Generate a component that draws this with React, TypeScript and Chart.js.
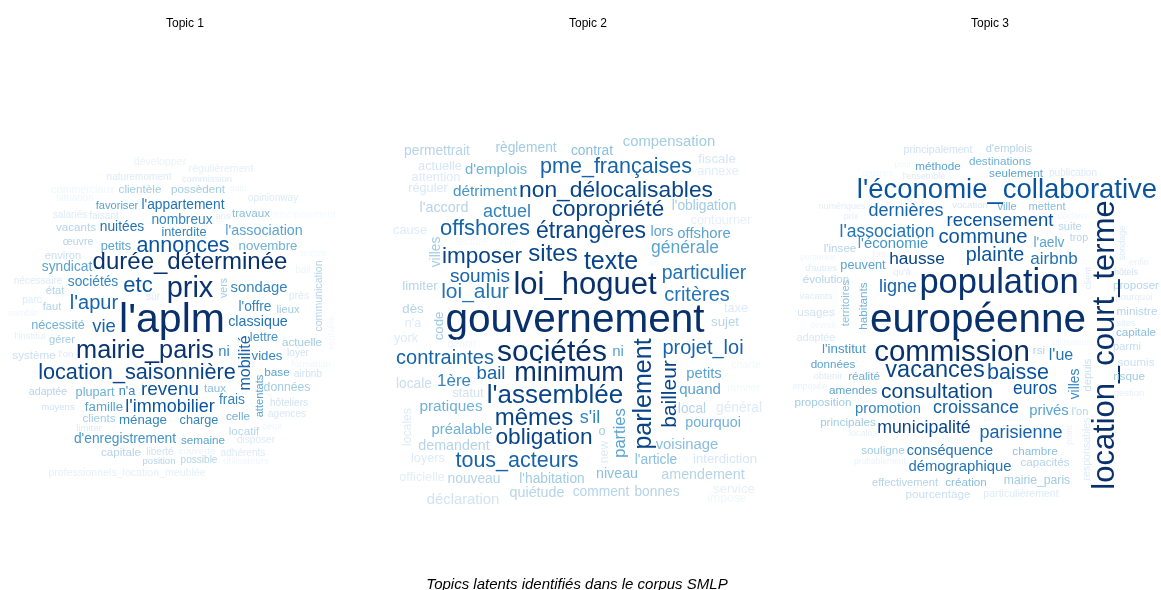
import React, { useEffect, useRef } from "react";
import { Chart, registerables } from "chart.js";

Chart.register(...registerables);

type Row = [string, number, number, number, number, number?];

const topicTitles = ["Topic 1", "Topic 2", "Topic 3"];
const titleCentres = [185, 588, 990];
const titleLevel = 24;
const caption = "Topics latents identifiés dans le corpus SMLP";
const captionCentre = 577;
const captionLevel = 585;
const blues = ["#F7FBFF", "#DEEBF7", "#C6DBEF", "#9ECAE1", "#6BAED6", "#4292C6", "#2171B5", "#08519C", "#08306B"];

// [word, x, y, weight, tone (1-9 on the Blues ramp), vertical?]
const topic1: Row[] = [
  ["développer", 160, 161, 10, 1.5], ["naturemoment", 139, 177, 9.5, 2], ["commission", 207, 179, 9, 2],
  ["régulièrement", 221, 168, 10, 1.7], ["clientèle", 140, 189, 11, 3.5], ["possèdent", 198, 189, 11, 3.5],
  ["commerciaux", 83, 189, 10, 1.3], ["gain", 238, 188, 8, 1.3], ["opinionway", 273, 198, 9.5, 2],
  ["situation", 75, 198, 9.5, 1.3], ["favoriser", 117, 205, 10.5, 5], ["l'appartement", 183, 204, 13, 6.5],
  ["salariés", 70, 215, 9.5, 2], ["faisant", 104, 216, 9.5, 2], ["travaux", 251, 213, 11, 4],
  ["ans", 223, 216, 9, 1.8], ["principalement", 303, 215, 9.5, 1.1], ["nombreux", 182, 219, 13, 6],
  ["vacants", 76, 227, 11, 3], ["nuitées", 122, 226, 13, 6.5], ["interdite", 184, 232, 12, 6],
  ["l'association", 264, 230, 13.5, 5], ["novembre", 268, 245, 12.5, 4.5], ["annonces", 183, 245, 21.5, 7.5],
  ["petits", 116, 246, 12, 5], ["œuvre", 78, 241, 10, 3], ["environ", 63, 255, 10.5, 2.8],
  ["syndicat", 67, 266, 13, 5], ["durée_déterminée", 190, 261, 24, 8.5], ["textes", 313, 253, 9, 1.2],
  ["bail", 303, 270, 9.5, 1.4], ["communication", 318, 296, 10, 3, 1], ["vers", 223, 288, 10, 3.5, 1],
  ["prix", 190, 287, 29, 8.5], ["sondage", 259, 287, 14, 6], ["etc", 138, 284, 22, 7.5],
  ["sociétés", 93, 281, 13, 6], ["nécessaire", 38, 281, 9.5, 2], ["état", 55, 290, 10.5, 3],
  ["parc", 32, 300, 9.5, 2], ["faut", 52, 306, 10.5, 3], ["semble", 23, 313, 9, 1.3],
  ["l'apur", 94, 302, 20, 7], ["sûr", 153, 297, 9.5, 2], ["près", 299, 295, 10, 2],
  ["l'offre", 255, 306, 13, 6], ["lieux", 288, 309, 10.5, 3.5], ["l'aplm", 172, 318, 41, 9],
  ["classique", 258, 321, 13.5, 6.5], ["ventable", 331, 333, 8.5, 1.2, 1], ["nécessité", 58, 325, 12, 4.5],
  ["vie", 104, 326, 18.5, 7], ["l'institut", 30, 336, 9, 1.7], ["gérer", 62, 339, 10.5, 3.5],
  ["lettre", 264, 337, 12, 5.5], ["actuelle", 302, 342, 11, 3.5], ["système", 34, 355, 11, 2.8],
  ["l'on", 66, 354, 9, 2], ["mairie_paris", 145, 349, 25.3, 8.5], ["ni", 224, 351, 14, 6],
  ["vides", 267, 355, 12.5, 6], ["mobilité", 244, 363, 16, 7, 1], ["loyer", 298, 353, 9.5, 2.5],
  ["formation", 311, 364, 9, 1.3], ["location_saisonnière", 137, 372, 21.7, 8], ["base", 277, 372, 11, 5],
  ["airbnb", 308, 374, 9.5, 2.5], ["attentats", 259, 396, 10.5, 5, 1], ["données", 287, 387, 11.5, 3.5],
  ["adaptée", 48, 391, 10, 3], ["plupart", 95, 392, 12, 4.5], ["n'a", 127, 391, 12, 6],
  ["revenu", 170, 388, 19, 7.5], ["taux", 215, 388, 11, 4], ["frais", 232, 399, 13, 6],
  ["hôteliers", 289, 403, 9.5, 2.5], ["moyens", 58, 407, 9, 2.5], ["famille", 104, 406, 12.5, 5],
  ["l'immobilier", 170, 406, 18, 7.5], ["celle", 238, 416, 11, 4.5], ["agences", 287, 414, 9.5, 2.2],
  ["clients", 99, 418, 11, 3.5], ["ménage", 143, 419, 12.5, 6], ["charge", 199, 420, 12, 6],
  ["locatif", 244, 431, 11, 3], ["ceux", 272, 426, 9, 1.4], ["limiter", 89, 428, 9, 2],
  ["d'enregistrement", 125, 438, 13, 5.5], ["semaine", 203, 440, 11, 5], ["disposer", 256, 440, 9.5, 2],
  ["capitale", 121, 452, 11, 3], ["liberté", 160, 452, 9.5, 2.5], ["couverte", 197, 451, 9, 1.5],
  ["adhérents", 243, 453, 9.5, 2], ["position", 159, 461, 9, 3], ["possible", 199, 460, 9.5, 3],
  ["utilisateurs", 246, 461, 9, 1.3], ["professionnels_location_meublée", 127, 472, 10, 1.7],
];

const topic2: Row[] = [
  ["permettrait", 437, 150, 13, 3], ["règlement", 526, 147, 13, 3.5], ["contrat", 592, 150, 13, 4],
  ["compensation", 669, 141, 14, 3.5], ["fiscale", 717, 158, 12.5, 2.3], ["annexe", 718, 171, 12, 1.8],
  ["actuelle", 440, 166, 12, 2.3], ["attention", 436, 177, 12, 2], ["d'emplois", 496, 169, 14, 4.5],
  ["pme_françaises", 616, 166, 21.5, 7], ["réguler", 428, 188, 12, 2.2], ["détriment", 485, 191, 14.5, 5.5],
  ["non_délocalisables", 616, 189, 22.8, 8], ["l'accord", 444, 207, 13.5, 3], ["actuel", 507, 211, 18, 6],
  ["copropriété", 608, 208, 22.5, 8], ["l'obligation", 704, 205, 13, 3.5], ["contourner", 721, 220, 12, 1.7],
  ["cause", 410, 230, 12, 2], ["offshores", 485, 227, 22, 7], ["étrangères", 591, 230, 23, 8],
  ["lors", 662, 231, 13.5, 5], ["offshore", 704, 233, 14, 5], ["générale", 685, 247, 17.5, 5],
  ["lecture", 472, 241, 10, 1.1], ["ville", 508, 241, 10, 1.1], ["villes", 435, 252, 13, 3.5, 1],
  ["imposer", 482, 255, 22.5, 8], ["sites", 553, 253, 24, 8], ["texte", 611, 260, 25, 8],
  ["fin", 654, 263, 9, 1.2], ["soumis", 480, 275, 19, 7], ["particulier", 704, 272, 19.5, 6.5],
  ["limiter", 420, 285, 12.5, 3], ["loi_alur", 475, 291, 21, 6.5], ["loi_hoguet", 585, 283, 31, 9],
  ["critères", 697, 294, 20, 6.5], ["taxe", 736, 308, 12, 2], ["dès", 413, 308, 12.5, 3],
  ["code", 438, 326, 12.5, 3.5, 1], ["gouvernement", 575, 318, 40.5, 9], ["sujet", 725, 321, 12.5, 3],
  ["n'a", 413, 323, 12, 2], ["york", 406, 338, 12, 2], ["définir", 462, 343, 10, 1.3],
  ["sociétés", 552, 351, 30, 9], ["ni", 618, 351, 15, 5], ["parlement", 642, 394, 25, 8, 1],
  ["projet_loi", 703, 347, 20, 7], ["contraintes", 445, 357, 20, 7], ["bailleur", 669, 394, 21, 8, 1],
  ["minimum", 569, 372, 27, 8.5], ["bail", 491, 373, 18.5, 7], ["petits", 704, 373, 14, 5],
  ["1ère", 454, 380, 17, 6], ["locale", 414, 383, 13, 2.8], ["quand", 700, 389, 15, 5],
  ["janvier", 744, 387, 10.5, 1.2], ["charte", 746, 364, 10, 1.2], ["statut", 468, 393, 12, 2.5],
  ["l'assemblée", 555, 394, 26, 8], ["local", 692, 408, 13, 3], ["général", 739, 407, 13, 2],
  ["pratiques", 451, 406, 14.5, 4.5], ["locales", 407, 427, 11.5, 2, 1], ["mêmes", 534, 417, 24, 8],
  ["s'il", 590, 417, 18, 6], ["pourquoi", 713, 422, 13.5, 4.5], ["préalable", 462, 429, 14, 4.5],
  ["obligation", 544, 436, 22.7, 8], ["parties", 619, 433, 16.5, 5, 1], ["o", 602, 431, 12, 3.5],
  ["new", 604, 452, 11.5, 2, 1], ["voisinage", 687, 444, 14, 4], ["demandent", 454, 445, 13.5, 3],
  ["loyers", 428, 458, 12, 2], ["tous_acteurs", 517, 460, 21.5, 7], ["l'article", 656, 459, 13, 4],
  ["interdiction", 725, 458, 12.5, 2.3], ["niveau", 617, 473, 13.5, 4], ["amendement", 703, 474, 13.5, 3],
  ["officielle", 422, 477, 12, 1.8], ["nouveau", 474, 478, 13, 3], ["l'habitation", 552, 478, 13, 3.5],
  ["quiétude", 537, 492, 13.5, 3], ["comment", 601, 491, 13, 3], ["bonnes", 657, 491, 13, 3],
  ["service", 734, 488, 12.5, 1.7], ["impose", 727, 498, 11.5, 1.2], ["déclaration", 463, 499, 14, 2.5],
];

const topic3: Row[] = [
  ["principalement", 938, 149, 10, 2.5], ["d'emplois", 1009, 148, 10.5, 3], ["destinations", 1000, 161, 11, 4.5],
  ["méthode", 938, 166, 11, 5], ["seulement", 1016, 173, 11, 5], ["publication", 1073, 173, 9.5, 2],
  ["l'ensemble", 924, 176, 8.5, 2], ["pour", 903, 164, 8, 1.3], ["organes", 878, 173, 8, 1.2],
  ["l'économie_collaborative", 1007, 188, 27.5, 7.5], ["numériques", 842, 206, 8.5, 1.8], ["prix", 851, 216, 8.5, 1.8],
  ["dernières", 906, 210, 18, 7], ["vocation", 970, 205, 9, 2.2], ["ville", 1007, 206, 10.5, 4.5],
  ["mettent", 1047, 206, 10.5, 4], ["recensement", 1000, 220, 18.5, 7.5], ["déclarer", 1073, 216, 8, 1.3],
  ["suite", 1070, 226, 10.5, 3], ["trop", 1079, 237, 10, 3], ["sondage", 1122, 243, 8.5, 2, 1],
  ["l'association", 887, 231, 17.5, 6.5], ["commune", 983, 236, 20.3, 7.5], ["l'aelv", 1049, 242, 13, 5],
  ["l'économie", 893, 243, 14, 5.5], ["l'insee", 840, 248, 11, 3], ["hausse", 917, 258, 17.3, 8],
  ["plainte", 995, 254, 19.8, 7.5], ["airbnb", 1054, 258, 17, 6.5], ["personne", 818, 257, 8, 1.3],
  ["lors", 879, 254, 8, 1.5], ["d'autres", 821, 268, 8.5, 2], ["peuvent", 863, 265, 12, 5],
  ["qu'à", 902, 272, 9, 2], ["enfin", 1139, 262, 8.5, 1.6], ["hôtels", 1126, 272, 8.5, 2.5],
  ["population", 999, 281, 34.5, 8.5], ["évolution", 826, 279, 11, 3], ["ligne", 898, 286, 18, 7],
  ["client", 1088, 278, 9, 2, 1], ["vacants", 816, 296, 9, 2], ["territoires", 845, 303, 10.5, 4, 1],
  ["habitants", 863, 306, 11, 4.5, 1], ["proposer", 1136, 285, 11, 3], ["pourquoi", 1134, 297, 9, 1.9],
  ["ministre", 1137, 311, 11, 3], ["usages", 816, 312, 11, 2.5], ["devrait", 823, 325, 8, 1.3],
  ["adaptée", 816, 337, 10, 2.2], ["sites", 1126, 323, 9, 1.8], ["capitale", 1136, 332, 11, 4],
  ["européenne", 978, 318, 40.5, 9], ["location_court_terme", 1103, 345, 31, 9, 1], ["l'institut", 844, 348, 12.5, 5.5],
  ["commission", 952, 351, 29.5, 9], ["rsi", 1039, 350, 11, 3], ["l'ue", 1061, 354, 16, 6.5],
  ["utilisateurs", 1073, 342, 8, 1.2], ["parmi", 1127, 346, 10.5, 2.8], ["soumis", 1136, 362, 11, 2.7],
  ["données", 833, 364, 11, 5], ["vacances", 935, 369, 23.5, 8], ["baisse", 1018, 372, 21.5, 7.5],
  ["obtenir", 828, 376, 9, 2], ["réalité", 864, 376, 11, 4.5], ["villes", 1074, 384, 13, 6, 1],
  ["depuis", 1087, 375, 10.5, 2.7, 1], ["risque", 1129, 376, 11, 3.5], ["imposée", 810, 386, 8.5, 1.6],
  ["amendes", 853, 390, 11, 5], ["consultation", 937, 391, 21, 8], ["euros", 1035, 388, 17.5, 7.5],
  ["gestion", 1129, 393, 9, 1.6], ["proposition", 823, 402, 11, 3.5], ["promotion", 888, 408, 14, 6],
  ["croissance", 976, 407, 18, 7], ["privés", 1049, 410, 14, 5], ["l'on", 1080, 411, 10.5, 3],
  ["pénétration", 1005, 418, 8, 1.2], ["responsables", 1086, 449, 10, 2, 1], ["point", 1069, 435, 8.5, 1.5, 1],
  ["principales", 848, 422, 11, 3.5], ["municipalité", 924, 427, 17.7, 8], ["parisienne", 1021, 432, 18, 7],
  ["locales", 863, 433, 8.5, 1.6], ["attentes", 955, 440, 8, 1.2], ["souligne", 883, 450, 11, 3.5],
  ["conséquence", 950, 450, 13.7, 6.5], ["chambre", 1035, 451, 11, 4], ["probablement", 880, 461, 8, 1.5],
  ["capacités", 1045, 462, 11, 3], ["démographique", 960, 466, 14, 6.5], ["effectivement", 905, 482, 10.5, 3],
  ["création", 966, 482, 11, 4], ["mairie_paris", 1037, 480, 11.5, 3.5], ["pourcentage", 938, 494, 11, 2.8],
  ["particulièrement", 1021, 493, 10, 2],
];

const FONT = '"Liberation Sans", Arial, sans-serif';

function toneColour(tone: number): string {
  const shifted = tone >= 3 ? tone + 0.4 : tone;
  const t = Math.min(8, Math.max(0, shifted - 1));
  const i = Math.min(7, Math.floor(t));
  const f = t - i;
  const parse = (h: string) => [1, 3, 5].map((k) => parseInt(h.slice(k, k + 2), 16));
  const a = parse(blues[i]);
  const b = parse(blues[i + 1]);
  return `rgb(${a.map((v, k) => Math.round(v + (b[k] - v) * f)).join(",")})`;
}

const wordPlugin = {
  id: "wordCloud",
  afterDatasetsDraw(chart: any) {
    const { ctx, scales } = chart;
    const sx = scales.x;
    const sy = scales.y;
    ctx.save();
    ctx.textAlign = "center";
    ctx.textBaseline = "middle";
    chart.data.datasets.forEach((ds: any, di: number) => {
      ds.data.forEach((p: any) => {
        const size = p.weight <= 14.5 ? p.weight * 1.06 : p.weight;
        ctx.save();
        ctx.translate(sx.getPixelForValue(p.x), sy.getPixelForValue(p.y));
        if (p.vertical) ctx.rotate(-Math.PI / 2);
        ctx.font = `${size}px ${FONT}`;
        ctx.fillStyle = toneColour(p.tone);
        ctx.fillText(p.word, 0, size * 0.07);
        ctx.restore();
      });
      ctx.font = `12px ${FONT}`;
      ctx.fillStyle = "#000000";
      ctx.fillText(ds.label, sx.getPixelForValue(titleCentres[di]), sy.getPixelForValue(titleLevel));
    });
    ctx.font = `italic 15px ${FONT}`;
    ctx.fillStyle = "#000000";
    ctx.fillText(caption, sx.getPixelForValue(captionCentre), sy.getPixelForValue(captionLevel));
    ctx.restore();
  },
};

const toPoints = (rows: Row[]) =>
  rows.map(([word, x, y, weight, tone, vertical]) => ({ word, x, y, weight, tone, vertical: !!vertical }));

export default function App() {
  const ref = useRef<HTMLCanvasElement | null>(null);
  useEffect(() => {
    if (!ref.current) return;
    const chart = new Chart(ref.current, {
      type: "scatter",
      data: {
        datasets: [topic1, topic2, topic3].map((rows, i) => ({
          label: topicTitles[i],
          data: toPoints(rows),
          pointRadius: 0,
          showLine: false,
        })),
      },
      options: {
        animation: false,
        responsive: false,
        layout: { padding: 0 },
        scales: {
          x: { type: "linear", min: 0, max: 1161, display: false },
          y: { type: "linear", min: 0, max: 590, reverse: true, display: false },
        },
        plugins: { legend: { display: false }, tooltip: { enabled: false }, title: { display: false } },
      },
      plugins: [wordPlugin],
    } as any);
    return () => chart.destroy();
  }, []);
  return (
    <div style={{ position: "absolute", left: 0, top: 0, width: 1161, height: 590, overflow: "hidden", background: "#fff" }}>
      <canvas ref={ref} width={1161} height={590} style={{ display: "block" }} />
    </div>
  );
}
